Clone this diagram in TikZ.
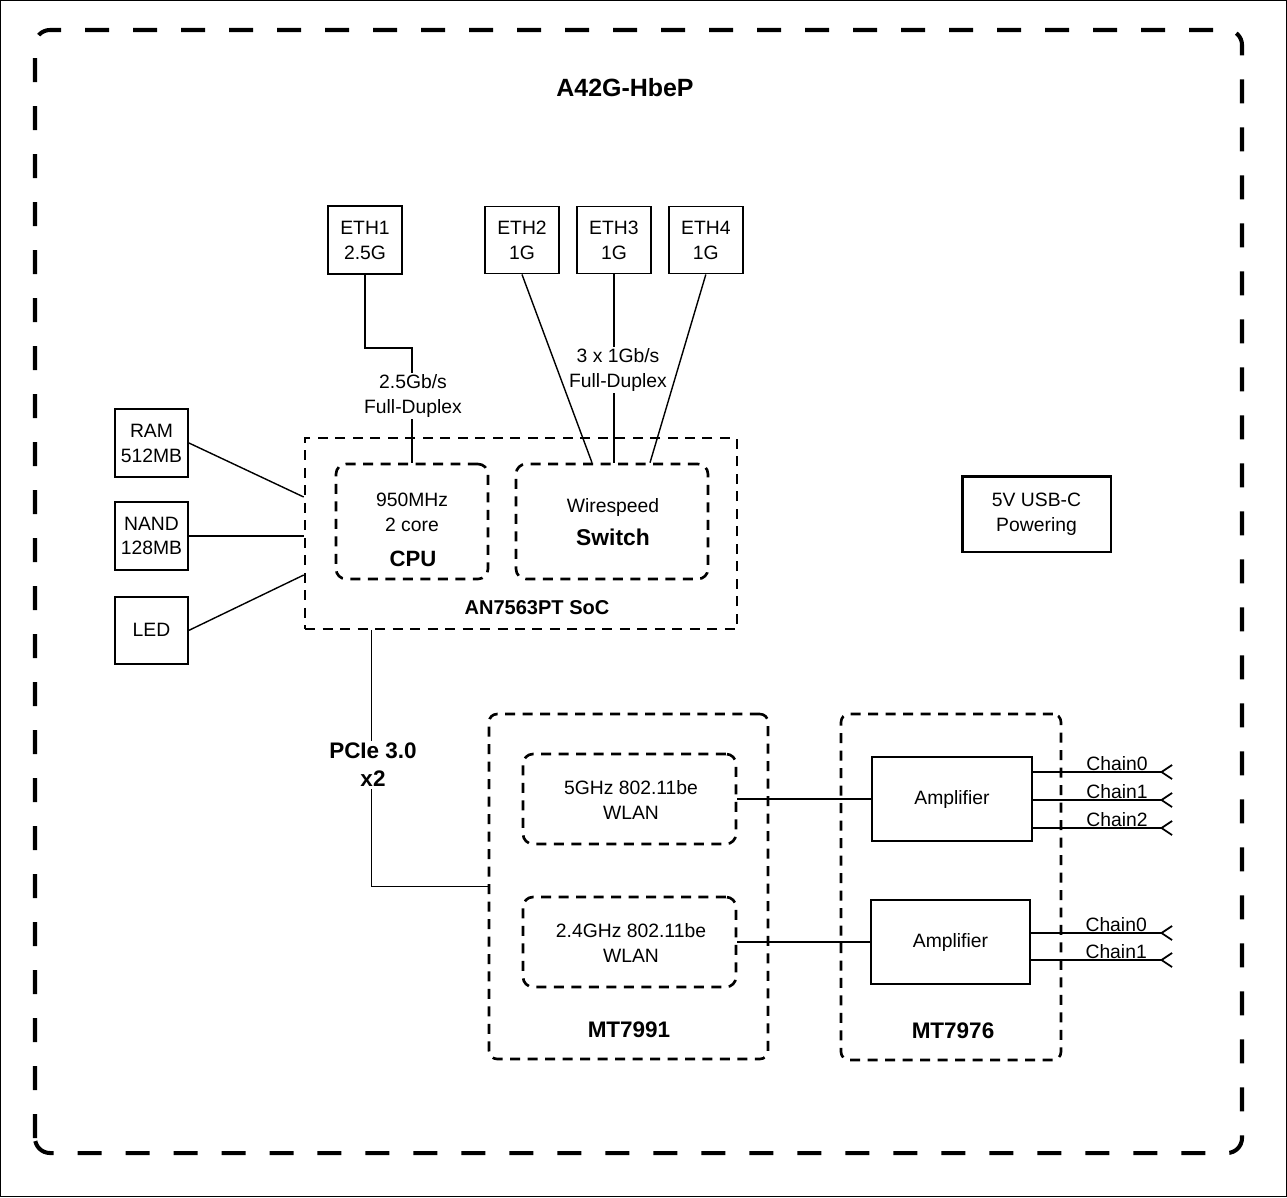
\documentclass[tikz,border=0pt]{standalone}
\usepackage{fontspec}
\setmainfont{Liberation Sans}
\usetikzlibrary{
arrows.meta,
positioning,
calc
}

\begin{document}
\begin{tikzpicture}[
x=0.02cm, y=-0.02cm,
box/.style={
rectangle,
draw,
line width=1.1pt,
minimum width=1.48cm,
minimum height=1.36cm,
align=center,
inner sep=0pt,
font=\fontsize{11}{14.2}\selectfont
},
chip/.style={
rectangle,
draw,
line width=1.5pt,
dash pattern=on 0.2cm off 0.15cm,
inner sep=0pt
},
block/.style={chip, rounded corners=0.2cm},
txt/.style={align=center, inner sep=1pt, font=\fontsize{11}{14.2}\selectfont},
btxt/.style={align=center, inner sep=1pt, font=\fontsize{12.8}{16}\selectfont\bfseries},
wire/.style={line width=0.8pt},
chain/.style={wire, -{Straight Barb[reversed, length=6pt, width=8pt, line width=1pt]}}
]

\useasboundingbox (0,0) rectangle (1287,1197);
\draw[line width=0.6pt] (0.5,0.5) rectangle (1286.5,1196.5);

\draw[line width=2.3pt, dash pattern=on 0.48cm off 0.48cm, rounded corners=0.3cm]
(35,1153) -- (35,30) -- (1242,30) -- (1242,1153) -- cycle;
\node[btxt, font=\fontsize{14.2}{17}\selectfont\bfseries] (title) at (625,88) {A42G-HbeP};

\node[box] (eth1) at (365,240) {ETH1\\2.5G};
\node[box, minimum height=1.34cm] (eth2) at (522,240) {ETH2\\1G};
\node[box, minimum height=1.34cm, right=0.32cm of eth2] (eth3) {ETH3\\1G};
\node[box, minimum height=1.34cm, right=0.32cm of eth3] (eth4) {ETH4\\1G};

\node[box, minimum width=1.46cm] (ram) at (151.5,443) {RAM\\512MB};
\node[box, minimum width=1.46cm, below=0.46cm of ram] (nand) {NAND\\128MB};
\node[box, minimum width=1.46cm, minimum height=1.34cm, below=0.5cm of nand] (led) {LED};

\node[chip, minimum width=8.64cm, minimum height=3.82cm] (soc) at (521,533.5) {};
\node[btxt, font=\fontsize{11.4}{13}\selectfont\bfseries] (soclbl) at (537,608) {AN7563PT SoC};
\node[block, minimum width=3.04cm, minimum height=2.3cm] (cpu) at (412,521.5) {};
\node[txt] (cpuspec) at (412,512) {950MHz\\2 core};
\node[btxt, font=\fontsize{12.6}{14}\selectfont\bfseries] (cpulbl) at (413,559) {CPU};
\node[block, minimum width=3.84cm, minimum height=2.3cm] (sw) at (612,521.5) {};
\node[txt] (swspec) at (613,507) {Wirespeed};
\node[btxt, font=\fontsize{13}{14}\selectfont\bfseries] (swlbl) at (613,537) {Switch};

\node[box, line width=1.7pt, minimum width=2.98cm, minimum height=1.52cm] (usb) at (1036.5,514)
{5V USB-C\\Powering};

\node[chip, rounded corners=0.16cm, minimum width=5.58cm, minimum height=6.9cm] (mt91) at (628.5,886.5) {};
\node[btxt] (mt91lbl) at (629,1030) {MT7991};
\node[block, minimum width=4.26cm, minimum height=1.8cm] (wl5) at (629.5,799) {};
\node[txt] (wl5lbl) at (631,800) {5GHz 802.11be\\WLAN};
\node[block, minimum width=4.26cm, minimum height=1.8cm] (wl24) at (629.5,942) {};
\node[txt] (wl24lbl) at (631,943) {2.4GHz 802.11be\\WLAN};

\node[chip, rounded corners=0.16cm, minimum width=4.4cm, minimum height=6.92cm] (mt76) at (951,887) {};
\node[btxt] (mt76lbl) at (953,1031) {MT7976};
\node[box, minimum width=3.2cm, minimum height=1.68cm] (amp1) at (952,799) {Amplifier};
\node[box, minimum width=3.18cm, minimum height=1.68cm] (amp2) at (950.5,942) {Amplifier};

\draw[wire] (eth1.south) -- ++(0,73) -| (cpu.north);
\node[txt, fill=white] (eth1spd) at (413,396) {2.5Gb/s\\Full-Duplex};
\draw[wire] (eth2.south) -- ($(sw.north)+(-20,0)$);
\draw[wire] (eth3.south) -- (eth3.south |- sw.north);
\draw[wire] (eth4.south) -- ($(sw.north)+(38,0)$);
\node[txt, fill=white] (ethspd) at (618,370) {3 x 1Gb/s\\Full-Duplex};

\draw[wire] (ram.east) -- ($(soc.west)+(0,-36.5)$);
\draw[wire] (nand.east) -- (nand.east -| soc.west);
\draw[wire] (led.east) -- ($(soc.west)+(0,41.5)$);

\draw[wire] ($(soc.south west)+(68,0)$) |- (mt91.west);
\node[btxt, fill=white, font=\fontsize{12.8}{16}\selectfont\bfseries] (pcie) at (373,765) {PCIe 3.0\\x2};

\draw[wire] (wl5.east) -- (amp1.west);
\draw[wire] (wl24.east) -- (amp2.west);

\draw[chain] ($(amp1.east)+(0,-27)$) -- ++(140,0) node[txt, above, pos=0.6, inner sep=0.5pt] (c10) {Chain0};
\draw[chain] ($(amp1.east)+(0,1)$) -- ++(140,0) node[txt, above, pos=0.6, inner sep=0.5pt] (c11) {Chain1};
\draw[chain] ($(amp1.east)+(0,29)$) -- ++(140,0) node[txt, above, pos=0.6, inner sep=0.5pt] (c12) {Chain2};
\draw[chain] ($(amp2.east)+(0,-9)$) -- ++(142,0) node[txt, above, pos=0.6, inner sep=0.5pt] (c20) {Chain0};
\draw[chain] ($(amp2.east)+(0,18)$) -- ++(142,0) node[txt, above, pos=0.6, inner sep=0.5pt] (c21) {Chain1};

\end{tikzpicture}
\end{document}
